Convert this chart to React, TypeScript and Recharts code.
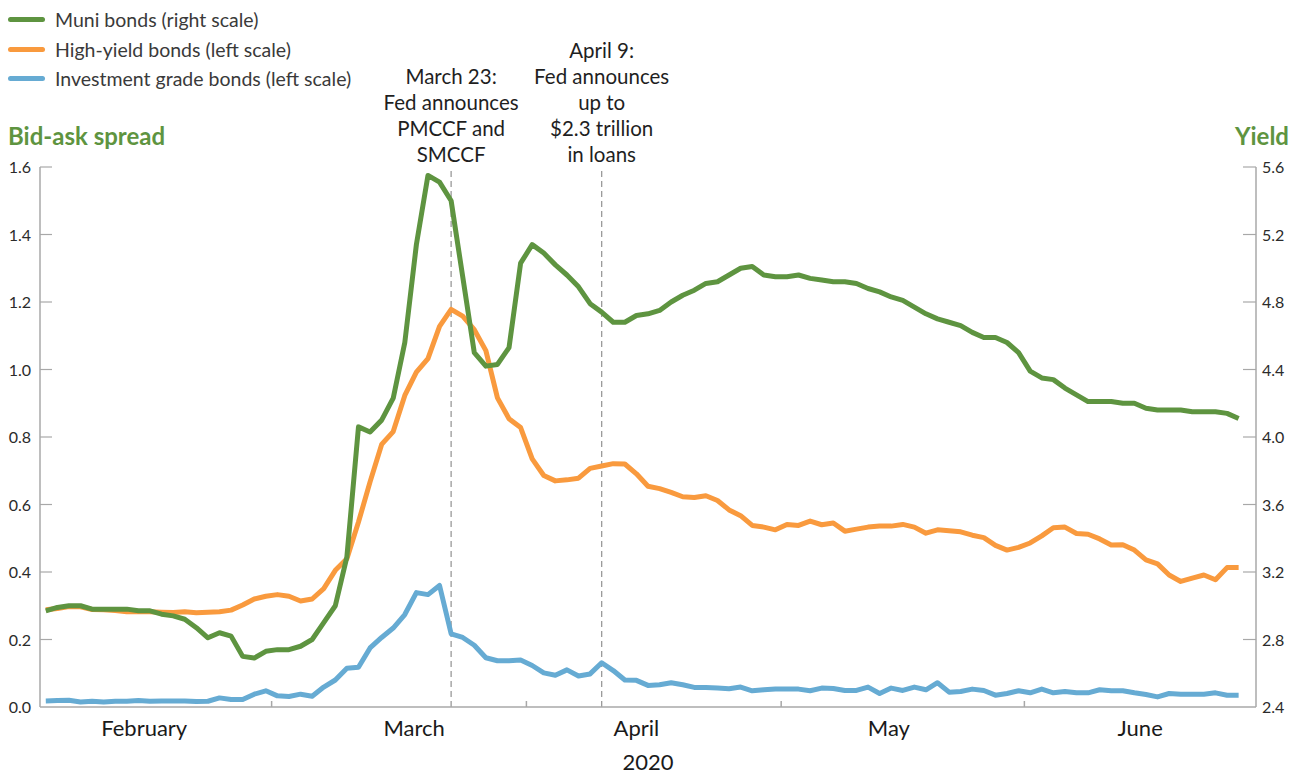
import { LineChart, Line, XAxis, YAxis, ReferenceLine } from "recharts";

// business days, Feb 3 .. late June 2020
const months = ["February", "March", "April", "May", "June"];
const monthDays = [20, 22, 22, 21, 19];
const monthLabelAt = [8.5, 31.8, 51.0, 72.8, 94.5];

const leftTicks = [0, 0.2, 0.4, 0.6, 0.8, 1.0, 1.2, 1.4, 1.6];
const rightTicks = [2.4, 2.8, 3.2, 3.6, 4.0, 4.4, 4.8, 5.2, 5.6];

// yield, right scale
const muniYield = [
  2.97, 2.99, 3.0, 3.0, 2.98, 2.98, 2.98, 2.98, 2.97, 2.97,
  2.95, 2.94, 2.92, 2.87, 2.81, 2.84, 2.82, 2.7, 2.69, 2.73,
  2.74, 2.74, 2.76, 2.8, 2.9, 3.0, 3.29, 4.06, 4.03, 4.1,
  4.23, 4.56, 5.14, 5.55, 5.51, 5.4, 4.95, 4.5, 4.42, 4.43,
  4.53, 5.03, 5.14, 5.09, 5.02, 4.96, 4.89, 4.79, 4.74, 4.68,
  4.68, 4.72, 4.73, 4.75, 4.8, 4.84, 4.87, 4.91, 4.92, 4.96,
  5.0, 5.01, 4.96, 4.95, 4.95, 4.96, 4.94, 4.93, 4.92, 4.92,
  4.91, 4.88, 4.86, 4.83, 4.81, 4.77, 4.73, 4.7, 4.68, 4.66,
  4.62, 4.59, 4.59, 4.56, 4.5, 4.39, 4.35, 4.34, 4.29, 4.25,
  4.21, 4.21, 4.21, 4.2, 4.2, 4.17, 4.16, 4.16, 4.16, 4.15,
  4.15, 4.15, 4.14, 4.11,
];

// bid-ask spread, left scale
const highYield = [
  0.288, 0.292, 0.298, 0.297, 0.289, 0.288, 0.286, 0.282, 0.282, 0.282,
  0.281, 0.28, 0.282, 0.279, 0.281, 0.282, 0.287, 0.302, 0.32, 0.328,
  0.333, 0.328, 0.314, 0.32, 0.351, 0.405, 0.439, 0.548, 0.667, 0.778,
  0.816, 0.923, 0.992, 1.032, 1.128, 1.178, 1.158, 1.118, 1.056, 0.916,
  0.854, 0.828, 0.735, 0.686, 0.67, 0.673, 0.678, 0.707, 0.714, 0.721,
  0.72, 0.691, 0.654, 0.647, 0.636, 0.623, 0.621, 0.626, 0.612, 0.584,
  0.567, 0.538, 0.533, 0.525, 0.541, 0.538, 0.551, 0.54, 0.545, 0.521,
  0.527, 0.533, 0.536, 0.536, 0.541, 0.533, 0.515, 0.525, 0.522, 0.519,
  0.509, 0.502, 0.479, 0.465, 0.473, 0.486, 0.507, 0.531, 0.533, 0.514,
  0.512, 0.498, 0.48, 0.481, 0.465, 0.436, 0.424, 0.391, 0.372, 0.382,
  0.391, 0.377, 0.413, 0.413,
];

const investmentGrade = [
  0.018, 0.019, 0.02, 0.015, 0.017, 0.015, 0.017, 0.017, 0.019, 0.017,
  0.018, 0.018, 0.018, 0.016, 0.017, 0.027, 0.022, 0.022, 0.038, 0.048,
  0.033, 0.031, 0.038, 0.032, 0.059, 0.08, 0.115, 0.118, 0.175, 0.206,
  0.234, 0.274, 0.339, 0.333, 0.36, 0.217, 0.206, 0.183, 0.146, 0.137,
  0.137, 0.139, 0.123, 0.101, 0.094, 0.11, 0.092, 0.098, 0.131, 0.108,
  0.08, 0.079, 0.064, 0.066, 0.072, 0.066, 0.058, 0.058, 0.056, 0.054,
  0.059, 0.048, 0.051, 0.053, 0.053, 0.053, 0.048, 0.056, 0.055, 0.049,
  0.049, 0.059, 0.04, 0.056, 0.049, 0.059, 0.051, 0.072, 0.044, 0.046,
  0.053, 0.049, 0.035, 0.04, 0.048, 0.042, 0.053, 0.042, 0.046, 0.042,
  0.042, 0.051, 0.048, 0.048, 0.042, 0.037, 0.03, 0.04, 0.038, 0.038,
  0.038, 0.042, 0.035, 0.035,
];

const events = [
  { at: 35, lines: ["March 23:", "Fed announces", "PMCCF and", "SMCCF"] },
  { at: 48, lines: ["April 9:", "Fed announces", "up to", "$2.3 trillion", "in loans"] },
];

const GREEN = "#5e9440";
const ORANGE = "#f99a3e";
const BLUE = "#66abd3";
const AXIS = "#a8a8a8";
const TEXT = "#2b2b2b";
const FONT = "Lato, 'Open Sans', sans-serif";

const series = [
  { key: "ig", name: "Investment grade bonds (left scale)", color: BLUE, axis: "left" },
  { key: "hy", name: "High-yield bonds (left scale)", color: ORANGE, axis: "left" },
  { key: "muni", name: "Muni bonds (right scale)", color: GREEN, axis: "right" },
];

const boundaries: number[] = [];
monthDays.reduce((acc, d) => {
  boundaries.push(acc - 0.5);
  return acc + d;
}, 0);
const totalSlots = monthDays.reduce((a, b) => a + b, 0) + 1;

const data = muniYield.map((m, i) => ({
  i,
  muni: m,
  hy: highYield[i],
  ig: investmentGrade[i],
}));

function MonthTick(props: any) {
  const { x, y, payload } = props;
  const v = payload.value;
  if (boundaries.includes(v)) {
    if (v < 0) return <g />;
    return <line x1={x} x2={x} y1={y - 6} y2={y} stroke={AXIS} strokeWidth={1.5} />;
  }
  const idx = monthLabelAt.indexOf(v);
  return (
    <text x={x} y={y + 29} textAnchor="middle" fontSize={22} fill="#1a1a1a">
      {months[idx]}
    </text>
  );
}

function LeftTick(props: any) {
  const { x, y, payload } = props;
  return (
    <g>
      {payload.value > 0 && <line x1={x} x2={x + 12} y1={y} y2={y} stroke={AXIS} strokeWidth={1.2} />}
      <text x={x - 9} y={y + 6} textAnchor="end" fontSize={16} fill={TEXT}>
        {payload.value.toFixed(1)}
      </text>
    </g>
  );
}

function RightTick(props: any) {
  const { x, y, payload } = props;
  return (
    <g>
      {payload.value > 2.4 && <line x1={x - 13} x2={x} y1={y} y2={y} stroke={AXIS} strokeWidth={1.2} />}
      <text x={x + 6} y={y + 6} textAnchor="start" fontSize={16} fill={TEXT}>
        {payload.value.toFixed(1)}
      </text>
    </g>
  );
}

function EventLabel({ viewBox, lines }: any) {
  const x = viewBox.x;
  const top = viewBox.y;
  return (
    <text textAnchor="middle" fontSize={20.5} fill="#1f1f1f">
      {lines.map((t: string, k: number) => (
        <tspan key={k} x={x} y={top - 5 - (lines.length - 1 - k) * 26}>
          {t}
        </tspan>
      ))}
    </text>
  );
}

function YearLabel({ viewBox }: any) {
  return (
    <text x={viewBox.x + viewBox.width / 2} y={viewBox.y + 63} textAnchor="middle" fontSize={22} fill="#1a1a1a">
      2020
    </text>
  );
}

export default function App() {
  return (
    <div
      style={{
        position: "absolute",
        left: 0,
        top: 0,
        width: 1298,
        height: 774,
        fontFamily: FONT,
        background: "#fff",
      }}
    >
      <div style={{ position: "absolute", left: 8, top: 5, zIndex: 2 }}>
        {[...series].reverse().map((s) => (
          <div key={s.key} style={{ display: "flex", alignItems: "center", height: 29.5 }}>
            <span
              style={{
                display: "inline-block",
                width: 37,
                height: 5,
                borderRadius: 3,
                background: s.color,
                marginRight: 10,
              }}
            />
            <span style={{ fontSize: 19.5, color: "#3a3a3a" }}>{s.name}</span>
          </div>
        ))}
      </div>
      <div
        style={{
          position: "absolute",
          left: 8,
          top: 121,
          fontSize: 24,
          fontWeight: 700,
          color: GREEN,
        }}
      >
        Bid-ask spread
      </div>
      <div
        style={{
          position: "absolute",
          right: 9,
          top: 121,
          fontSize: 24,
          fontWeight: 700,
          color: GREEN,
        }}
      >
        Yield
      </div>
      <LineChart
        width={1298}
        height={774}
        data={data}
        margin={{ top: 167, right: 0, bottom: 0, left: 0 }}
      >
        <XAxis
          dataKey="i"
          type="number"
          domain={[-0.5, totalSlots - 0.5]}
          ticks={[...boundaries, ...monthLabelAt]}
          interval={0}
          tick={<MonthTick />}
          tickLine={false}
          tickSize={0}
          tickMargin={0}
          height={67}
          axisLine={{ stroke: AXIS, strokeWidth: 1.5 }}
          label={(p: any) => <YearLabel {...p} />}
        />
        <YAxis
          yAxisId="left"
          orientation="left"
          width={40}
          domain={[0, 1.6]}
          ticks={leftTicks}
          interval={0}
          tick={<LeftTick />}
          tickLine={false}
          tickSize={0}
          tickMargin={0}
          axisLine={{ stroke: AXIS, strokeWidth: 1.5 }}
        />
        <YAxis
          yAxisId="right"
          orientation="right"
          width={42}
          domain={[2.4, 5.6]}
          ticks={rightTicks}
          interval={0}
          tick={<RightTick />}
          tickLine={false}
          tickSize={0}
          tickMargin={0}
          axisLine={{ stroke: AXIS, strokeWidth: 1.5 }}
        />
        {events.map((e) => (
          <ReferenceLine
            key={e.at}
            x={e.at}
            yAxisId="left"
            stroke="#9a9a9a"
            strokeWidth={1.3}
            strokeDasharray="6 4"
            label={(p: any) => <EventLabel {...p} lines={e.lines} />}
          />
        ))}
        {series.map((s) => (
          <Line
            key={s.key}
            yAxisId={s.axis}
            dataKey={s.key}
            name={s.name}
            stroke={s.color}
            strokeWidth={5}
            strokeLinejoin="round"
            dot={false}
            activeDot={false}
            isAnimationActive={false}
          />
        ))}
      </LineChart>
    </div>
  );
}
